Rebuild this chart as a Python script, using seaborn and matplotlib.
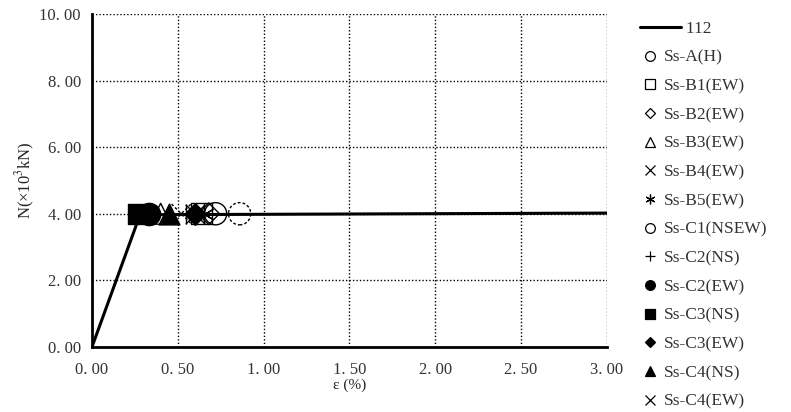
import matplotlib
matplotlib.use("Agg")
import matplotlib.pyplot as plt
from matplotlib.lines import Line2D
from matplotlib.legend_handler import HandlerLine2D
import seaborn as sns
import pandas as pd

# ---- data ----
line_label = "112"
line_x = [0.00, 0.28, 3.00]
line_y = [0.00, 3.97, 4.02]

series_labels = ["Ss-A(H)", "Ss-B1(EW)", "Ss-B2(EW)", "Ss-B3(EW)", "Ss-B4(EW)",
                 "Ss-B5(EW)", "Ss-C1(NSEW)", "Ss-C2(NS)", "Ss-C2(EW)", "Ss-C3(NS)",
                 "Ss-C3(EW)", "Ss-C4(NS)", "Ss-C4(EW)"]
series_x = [0.72, 0.64, 0.68, 0.40, 0.60, 0.65, 0.86, 0.55, 0.33, 0.27, 0.60, 0.45, 0.52]
series_y = [4.00, 4.00, 4.00, 4.00, 4.00, 4.00, 4.00, 4.00, 4.00, 4.00, 4.00, 4.00, 4.00]

x_ticks = [0.0, 0.5, 1.0, 1.5, 2.0, 2.5, 3.0]
y_ticks = [0.0, 2.0, 4.0, 6.0, 8.0, 10.0]
x_label = "ε (%)"
y_label = "N(×10$^3$kN)"

# ---- style ----
markers = ["o", "s", "D", "^", "x", (6, 2, 0), "o", "+", "o", "s", "D", "^", "x"]
filled = [False, False, False, False, False, False, False, False, True, True, True, True, False]
dashed = [False] * 6 + [True] + [False] * 5 + [True]
msize = [16, 15, 11, 15, 14, 14, 16, 14, 16, 15, 11, 15, 14]

sns.set_theme(style="white")
plt.rcParams["font.family"] = ["Liberation Serif", "Noto Sans CJK JP", "DejaVu Sans"]
plt.rcParams["mathtext.fontset"] = "stix"


class LongLine(HandlerLine2D):
    def create_artists(self, legend, orig_handle, xdescent, ydescent, width,
                       height, fontsize, trans):
        y = height / 2 - ydescent
        ln = Line2D([-xdescent, width + 15], [y, y], color="black", lw=2.2)
        ln.set_transform(trans)
        return [ln]


fig = plt.figure(figsize=(7.91, 4.12), dpi=100)
ax = fig.add_axes([0.1163, 0.158, 0.651, 0.808])

df_line = pd.DataFrame({"x": line_x, "y": line_y})
sns.lineplot(data=df_line, x="x", y="y", color="black", linewidth=2.2, ax=ax,
             sort=False, estimator=None, zorder=3)

line_handle = Line2D([0], [0], color="black", lw=2.2)
handles = [line_handle]
for i, lab in enumerate(series_labels):
    df = pd.DataFrame({"x": [series_x[i]], "y": [series_y[i]]})
    ls = (0, (2, 1.5)) if dashed[i] else "-"
    if markers[i] in ("x", "+") or isinstance(markers[i], tuple):
        kw = dict(color="black", linewidths=1.0)
    elif filled[i]:
        kw = dict(color="black", edgecolor="black", linewidths=1.0)
    else:
        kw = dict(facecolor="none", edgecolor="black", linewidths=1.0)
    sns.scatterplot(data=df, x="x", y="y", marker=markers[i], s=msize[i] ** 2,
                    ax=ax, zorder=4, linestyle=ls, legend=False, **kw)
    handles.append(Line2D([0], [0], linestyle="none", marker=markers[i],
                          markersize=7 if markers[i] != "D" else 5.5,
                          markerfacecolor="black" if filled[i] else "none",
                          markeredgecolor="black", markeredgewidth=0.9))

ax.set_xlim(0, 3)
ax.set_ylim(0, 10)
ax.set_xticks(x_ticks)
ax.set_yticks(y_ticks)
ax.set_xticklabels([f"{v:.2f}".replace(".", ". ") for v in x_ticks], fontsize=12)
ax.set_yticklabels([f"{v:.2f}".replace(".", ". ") for v in y_ticks], fontsize=12)
ax.set_xlabel(x_label, fontsize=11, labelpad=0)
ax.set_ylabel(y_label, fontsize=12, labelpad=2)
ax.tick_params(axis="x", length=0, pad=11, colors="#333333")
ax.tick_params(axis="y", length=0, pad=8, colors="#333333")
ax.grid(True, color="black", linestyle=(0, (1, 1.5)), linewidth=1.0)
for s in ["top", "right"]:
    ax.spines[s].set_visible(False)
for s in ["left", "bottom"]:
    ax.spines[s].set_color("black")
    ax.spines[s].set_linewidth(2.0)
    ax.spines[s].set_zorder(5)

leg = ax.legend(handles, ["     " + line_label] + series_labels, loc="upper left",
                bbox_to_anchor=(1.05, 1.0), frameon=False, fontsize=12.5,
                handlelength=1.2, handletextpad=0.2, labelspacing=0.72,
                borderaxespad=0.0, handler_map={line_handle: LongLine()})
for t in leg.get_texts():
    t.set_color("#333333")

fig.savefig("out.png", dpi=100)
